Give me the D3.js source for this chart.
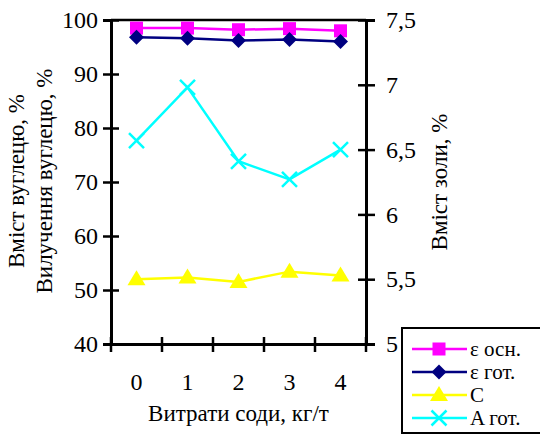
<!DOCTYPE html>
<html>
<head>
<meta charset="utf-8">
<script src="https://cdn.jsdelivr.net/npm/d3@7"></script>
<style>
  body { margin: 0; background: #fff; }
</style>
</head>
<body>
<div id="chart"></div>
<script>
// data
const categories = ["0", "1", "2", "3", "4"];
const epsOsn = [98.5, 98.5, 98.2, 98.4, 98.0];
const epsGot = [96.8, 96.6, 96.2, 96.4, 96.0];
const carbon = [52.0, 52.3, 51.5, 53.4, 52.7];
const ashGot = [6.57, 6.98, 6.41, 6.27, 6.50];
const leftTicks = [40, 50, 60, 70, 80, 90, 100];
const rightTicks = [5, 5.5, 6, 6.5, 7, 7.5];

const width = 540, height = 436;
const margin = {left: 111, right: 174, top: 20, bottom: 92};
const serif = "Liberation Serif";

const svg = d3.select("#chart").append("svg")
    .attr("width", width).attr("height", height)
    .attr("font-family", serif);

const x = d3.scaleBand().domain(categories)
    .range([margin.left, width - margin.right]);
const yL = d3.scaleLinear().domain([40, 100])
    .range([height - margin.bottom, margin.top]);
const yR = d3.scaleLinear().domain([5, 7.5])
    .range([height - margin.bottom, margin.top]);

const fs = 23;
const tickFs = 24;

// top border of plot area
svg.append("line")
    .attr("x1", margin.left).attr("x2", width - margin.right)
    .attr("y1", margin.top).attr("y2", margin.top)
    .attr("stroke", "#000").attr("stroke-width", 2.5);

// left axis
const gL = svg.append("g")
    .attr("transform", `translate(${margin.left},0)`)
    .call(d3.axisLeft(yL).tickValues(leftTicks).tickSize(8).tickPadding(5));
gL.selectAll(".tick line").attr("x1", 8);

// right axis
const gR = svg.append("g")
    .attr("transform", `translate(${width - margin.right},0)`)
    .call(d3.axisRight(yR).tickValues(rightTicks).tickSize(9).tickPadding(11)
        .tickFormat(d => String(d).replace(".", ",")));
gR.selectAll(".tick line").attr("x1", -8);

// bottom axis, ticks between categories
const gB = svg.append("g")
    .attr("transform", `translate(0,${height - margin.bottom})`)
    .call(d3.axisBottom(x).tickSize(0).tickPadding(29));
const bounds = d3.range(categories.length + 1).map(i => margin.left + i * x.bandwidth());
gB.selectAll(".btick").data(bounds).enter().append("line")
    .attr("x1", d => d).attr("x2", d => d)
    .attr("y1", -7).attr("y2", 8)
    .attr("stroke", "#000").attr("stroke-width", 2.5);

[gL, gR, gB].forEach(g => {
  g.attr("font-family", serif);
  g.select(".domain").attr("stroke-width", 3);
  g.selectAll(".tick line").attr("stroke-width", 2.5);
  g.selectAll("text").attr("font-size", tickFs).attr("fill", "#000")
      .attr("font-family", serif);
});

const cx = i => x(categories[i]) + x.bandwidth() / 2;

function drawSeries(values, scale, color) {
  const line = d3.line().x((d, i) => cx(i)).y(d => scale(d));
  svg.append("path").datum(values)
      .attr("fill", "none").attr("stroke", color).attr("stroke-width", 2.5)
      .attr("d", line);
}

function marker(g, type, color) {
  if (type === "square") {
    g.append("rect").attr("x", -6.5).attr("y", -6.5).attr("width", 13).attr("height", 13)
        .attr("fill", color);
  } else if (type === "diamond") {
    g.append("path").attr("d", "M0,-7.5L7.5,0L0,7.5L-7.5,0Z").attr("fill", color);
  } else if (type === "triangle") {
    g.append("path").attr("d", "M0,-9L9,6L-9,6Z").attr("fill", color);
  } else if (type === "x") {
    g.append("path").attr("d", "M-7.5,-7.5L7.5,7.5M-7.5,7.5L7.5,-7.5")
        .attr("stroke", color).attr("stroke-width", 2.5).attr("fill", "none");
  }
}

const series = [
  {name: "ε осн.", values: epsOsn, scale: yL, color: "#ff00ff", type: "square"},
  {name: "ε гот.", values: epsGot, scale: yL, color: "#000080", type: "diamond"},
  {name: "C", values: carbon, scale: yL, color: "#ffff00", type: "triangle"},
  {name: "A гот.", values: ashGot, scale: yR, color: "#00ffff", type: "x"}
];

series.forEach(s => {
  drawSeries(s.values, s.scale, s.color);
  s.values.forEach((v, i) => {
    const g = svg.append("g").attr("transform", `translate(${cx(i)},${s.scale(v)})`);
    marker(g, s.type, s.color);
  });
});

// axis titles
function title(tx, ty, rot, txt) {
  svg.append("text")
      .attr("transform", `translate(${tx},${ty}) rotate(${rot})`)
      .attr("text-anchor", "middle").attr("font-size", fs)
      .attr("font-family", serif)
      .text(txt);
}
title(24, 181, -90, "Вміст вуглецю, %");
title(52, 181, -90, "Вилучення вуглецю, %");
title(447, 182, -90, "Вміст золи, %");
title((margin.left + width - margin.right) / 2, 421, 0, "Витрати соди, кг/т");

// legend
const lg = svg.append("g").attr("transform", "translate(402,328)");
lg.append("rect").attr("width", 145).attr("height", 105)
    .attr("fill", "#fff").attr("stroke", "#000").attr("stroke-width", 2);
series.forEach((s, i) => {
  const yy = 21 + i * 23;
  lg.append("line").attr("x1", 10).attr("x2", 65).attr("y1", yy).attr("y2", yy)
      .attr("stroke", s.color).attr("stroke-width", 2.5);
  marker(lg.append("g").attr("transform", `translate(37,${yy})`), s.type, s.color);
  lg.append("text").attr("x", 68).attr("y", yy + 7).attr("font-size", 21)
      .attr("font-family", serif)
      .text(s.name);
});
</script>
</body>
</html>
